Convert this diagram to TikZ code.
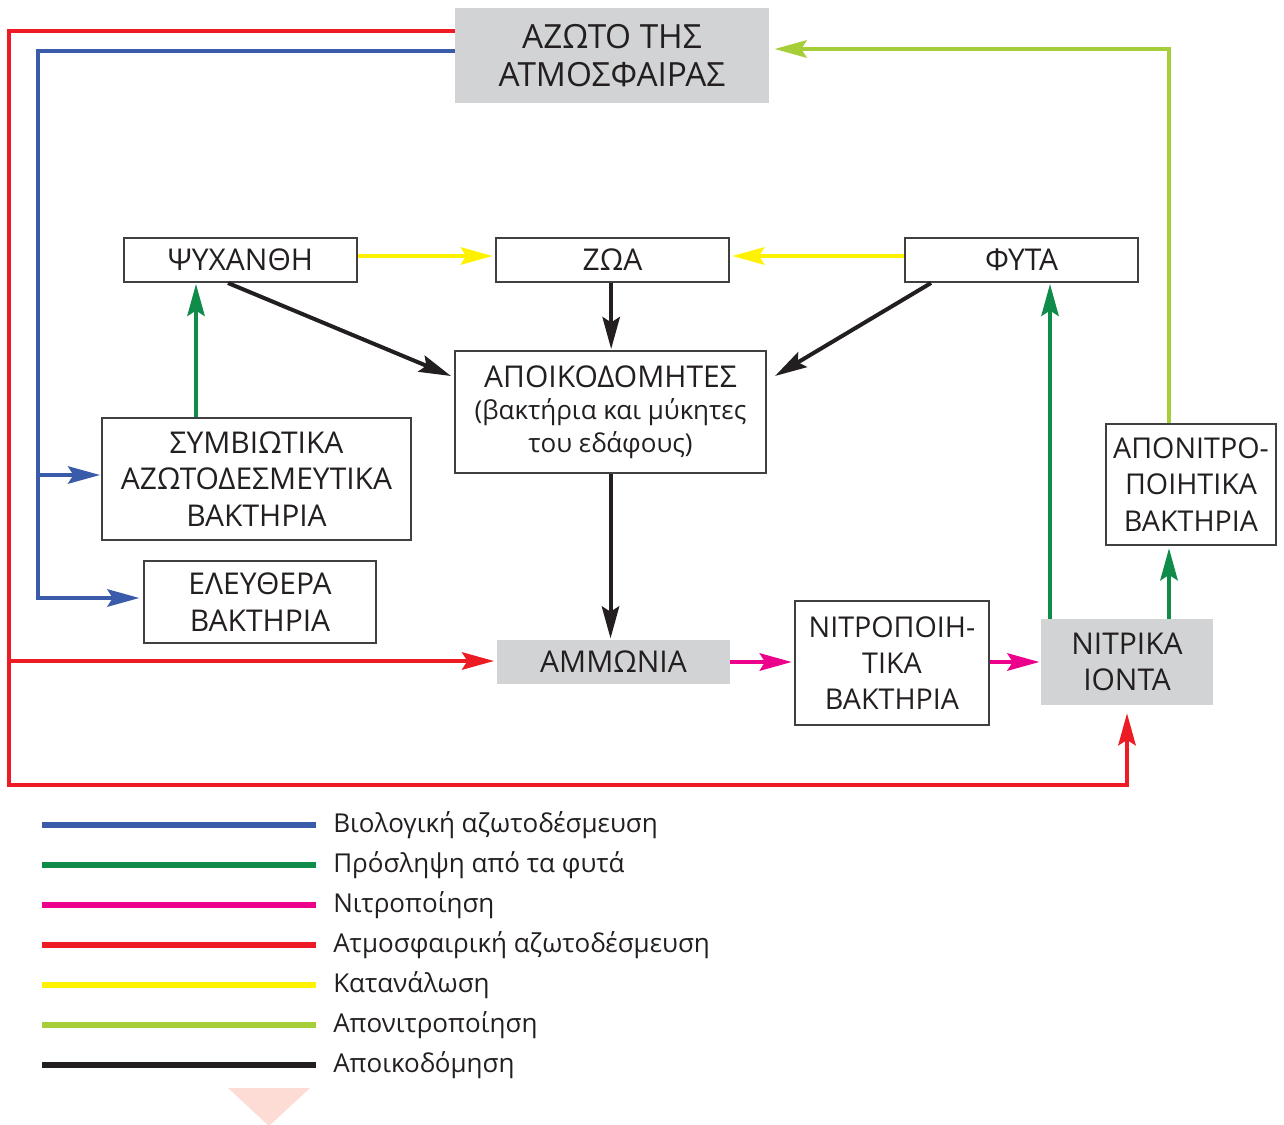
\documentclass[tikz,border=0pt]{standalone}
\usepackage{fontspec}
\setmainfont{Open Sans}
\usetikzlibrary{arrows.meta}
\definecolor{cred}{HTML}{ED1C24}
\definecolor{cblue}{HTML}{3A5BA9}
\definecolor{cgreen}{HTML}{0F8C4A}
\definecolor{cpink}{HTML}{EC008C}
\definecolor{cyel}{HTML}{FFF200}
\definecolor{clgreen}{HTML}{A6CE39}
\definecolor{cblack}{HTML}{231F20}
\definecolor{cgray}{HTML}{D1D3D4}
\definecolor{cframe}{HTML}{404040}
\definecolor{ctri}{HTML}{FDDCD6}
\tikzset{
  box/.style={draw=cframe, line width=0.9pt, inner sep=0pt, align=center,
    font=\fontsize{22.5}{27.5}\selectfont, text=cblack},
  gbox/.style={fill=cgray, inner sep=0pt, align=center,
    font=\fontsize{22.5}{26.5}\selectfont, text=cblack},
  tip/.style={-{Stealth[length=24pt,width=13pt,inset=4pt]}},
  flow/.style={line width=3pt},
  leg/.style={line width=4.5pt},
  legtxt/.style={anchor=west, inner sep=0pt, font=\fontsize{19.5}{24}\selectfont, text=cblack}
}
\begin{document}
\begin{tikzpicture}[x=0.75pt,y=-0.75pt]
\useasboundingbox (0,0) rectangle (1284,1124);
% nodes
\node[gbox, minimum width=235.5pt, minimum height=71.25pt, font=\fontsize{25}{28.5}\selectfont] (azoto) at (612,55.5) {ΑΖΩΤΟ ΤΗΣ\\ΑΤΜΟΣΦΑΙΡΑΣ};
\node[box, minimum width=174.75pt, minimum height=33pt] (psy) at (240.5,260) {ΨΥΧΑΝΘΗ};
\node[box, minimum width=174.75pt, minimum height=33pt] (zoa) at (612.5,260) {ΖΩΑ};
\node[box, minimum width=174.75pt, minimum height=33pt] (fyta) at (1021.5,260) {ΦΥΤΑ};
\node[box, minimum width=233.25pt, minimum height=91.5pt, font=\fontsize{19.5}{24.5}\selectfont] (apoik) at (610.5,412) {{\fontsize{22.5}{24.5}\selectfont ΑΠΟΙΚΟΔΟΜΗΤΕΣ}\\(βακτήρια και μύκητες\\του εδάφους)};
\node[box, minimum width=231.75pt, minimum height=91.5pt] (symb) at (256.5,479) {ΣΥΜΒΙΩΤΙΚΑ\\ΑΖΩΤΟΔΕΣΜΕΥΤΙΚΑ\\ΒΑΚΤΗΡΙΑ};
\node[box, minimum width=174pt, minimum height=61.5pt] (eleu) at (260,602) {ΕΛΕΥΘΕΡΑ\\ΒΑΚΤΗΡΙΑ};
\node[gbox, minimum width=174.75pt, minimum height=33pt] (ammo) at (613.5,662) {ΑΜΜΩΝΙΑ};
\node[box, minimum width=145.5pt, minimum height=93pt, font=\fontsize{21.5}{27}\selectfont] (nitrop) at (892,663) {ΝΙΤΡΟΠΟΙΗ-\\ΤΙΚΑ\\ΒΑΚΤΗΡΙΑ};
\node[gbox, minimum width=129pt, minimum height=64.5pt] (nitrika) at (1127,662) {ΝΙΤΡΙΚΑ\\ΙΟΝΤΑ};
\node[box, minimum width=127.5pt, minimum height=90.75pt, font=\fontsize{21.5}{27.5}\selectfont] (aponit) at (1191,484.5) {ΑΠΟΝΙΤΡΟ-\\ΠΟΙΗΤΙΚΑ\\ΒΑΚΤΗΡΙΑ};
% red: atmospheric fixation
\coordinate (rtl) at (9,31);
\coordinate (rmid) at (9,661);
\coordinate (rbl) at (9,785);
\coordinate (rbr) at (1127,785);
\draw[flow, cred, tip, shorten >=6pt] (azoto.west |- rtl) -- (rtl) -- (rbl) -- (rbr) -- (rbr |- nitrika.south);
\draw[flow, cred, tip, shorten >=2pt] (rmid) -- (ammo.west |- rmid);
% blue: biological fixation
\coordinate (btl) at (38,51);
\coordinate (bb) at (38,598);
\coordinate (bm) at (38,475);
\draw[flow, cblue, tip, shorten >=3pt] (azoto.west |- btl) -- (btl) -- (bb) -- (eleu.west |- bb);
\draw[flow, cblue, tip, shorten >=1pt] (bm) -- (symb.west |- bm);
% yellow
\draw[flow, cyel, tip, shorten >=2pt] ([yshift=3pt]psy.east) -- ([yshift=3pt]zoa.west);
\draw[flow, cyel, tip, shorten >=2pt] ([yshift=3pt]fyta.west) -- ([yshift=3pt]zoa.east);
% black decomposition
\coordinate (k1) at (228,283);
\coordinate (k1e) at (451,376);
\coordinate (k3) at (931,283);
\coordinate (k3e) at (775,376);
\draw[flow, cblack, tip] (k1) -- (k1e);
\draw[flow, cblack, tip] (k3) -- (k3e);
\draw[flow, cblack, tip, shorten >=1pt] ([xshift=-1pt]zoa.south) -- ([xshift=-1pt]zoa.south |- apoik.north);
\draw[flow, cblack, tip, shorten >=1pt] (apoik.south) -- (apoik.south |- ammo.north);
% green uptake
\coordinate (g1) at (196,414);
\draw[flow, cgreen, tip, shorten >=1pt] (symb.north -| g1) -- (psy.south -| g1);
\coordinate (g2) at (1050,600);
\draw[flow, cgreen, tip, shorten >=1pt] (nitrika.north -| g2) -- (fyta.south -| g2);
\coordinate (g3) at (1169,600);
\draw[flow, cgreen, tip, shorten >=2pt] (nitrika.north -| g3) -- (aponit.south -| g3);
% light green denitrification
\coordinate (lg) at (1169,49);
\draw[flow, clgreen, tip, shorten >=4pt] (aponit.north -| lg) -- (lg) -- (azoto.east |- lg);
% pink nitrification
\draw[flow, cpink, tip, shorten >=2pt] (ammo.east) -- (nitrop.west |- ammo.east);
\draw[flow, cpink, tip, shorten >=1pt] (nitrop.east |- ammo.east) -- (nitrika.west |- ammo.east);
% legend
\foreach \y/\c/\t [count=\i] in {825/cblue/Βιολογική αζωτοδέσμευση, 865/cgreen/Πρόσληψη από τα φυτά, 905/cpink/Νιτροποίηση, 945/cred/Ατμοσφαιρική αζωτοδέσμευση, 985/cyel/Κατανάλωση, 1025/clgreen/Απονιτροποίηση, 1065/cblack/Αποικοδόμηση}{
  \coordinate (la\i) at (42,\y);
  \coordinate (lb\i) at (316,\y);
  \draw[leg, \c] (la\i) -- (lb\i);
  \node[legtxt] (lt\i) at (333,\y) {\t};
}
% decorative triangle
\fill[ctri] (228,1088) -- (310,1088) -- (269,1126) -- cycle;
\end{tikzpicture}
\end{document}
